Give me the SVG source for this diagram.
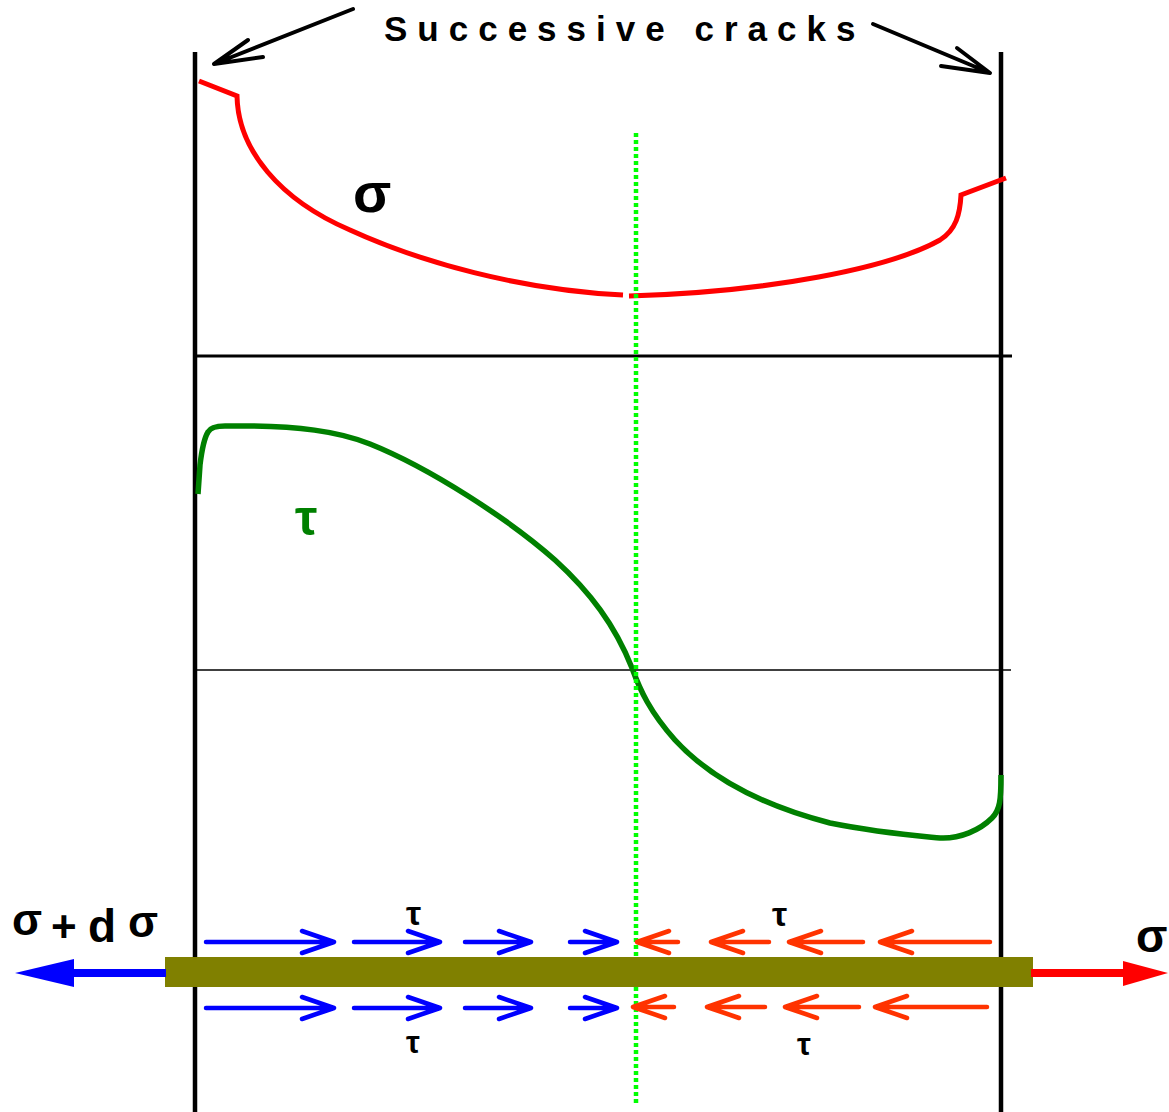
<svg xmlns="http://www.w3.org/2000/svg" width="1169" height="1112" viewBox="0 0 1169 1112">
<style>
.frame{stroke:#000;fill:none}
.blue{stroke:#0000ff;stroke-width:4.5;fill:none;stroke-linecap:round;stroke-linejoin:round}
.red{stroke:#ff3300;stroke-width:4.5;fill:none;stroke-linecap:round;stroke-linejoin:round}
.lbl{font-family:"Liberation Sans",Arial,sans-serif;font-weight:bold;fill:#000}
</style>
<rect width="1169" height="1112" fill="#fff"/>
<g id="frame">
<line class="frame" x1="195" y1="52" x2="195" y2="1112" stroke-width="4.5"/>
<line class="frame" x1="1001" y1="52" x2="1001" y2="1112" stroke-width="4.5"/>
<line class="frame" x1="195" y1="356" x2="1012" y2="356" stroke-width="3.2"/>
<line class="frame" x1="195" y1="670" x2="1011" y2="670" stroke-width="1.6"/>
</g>
<g id="title">
<text class="lbl" x="384" y="41" font-size="35" letter-spacing="10">Successive cracks</text>
</g>
<g id="connectors" stroke="#000" stroke-width="4" fill="none" stroke-linecap="round" stroke-linejoin="round">
<path d="M353,9 L214,64 M263,57 L214,64 L248,40"/>
<path d="M873,24 L990,73 M941,66 L990,73 L957,48"/>
</g>
<g id="sigma-curve" fill="none" stroke="#ff0000" stroke-width="5">
<path d="M199,81 L237,96 C238,150 280,200 350,230 C420,262 520,290 623,295"/>
<path d="M629,296 C770,292 890,268 940,240 C956,230 960,214 961,195 L1006,178"/>
</g>
<text id="sigma-label" class="lbl" x="353" y="212" font-size="56">σ</text>
<g id="tau-curve">
<path d="M198,494 L200,465 Q203,440 208,432 Q211,426 225,426 C300,425 340,432 370,444 C430,468 510,520 555,560 C590,592 615,625 632,668 C640,690 650,712 675,740 C710,778 760,805 830,823 C880,833 920,836 940,838 C960,839 980,830 992,818 C1000,810 1001,800 1001,775" fill="none" stroke="#008000" stroke-width="5.5"/>
</g>
<text id="tau-label" class="lbl" x="295" y="535" font-size="50" style="fill:#008000">τ</text>
<line id="midline" x1="636" y1="133" x2="636" y2="1105" stroke="#00ff00" stroke-width="4.5" stroke-dasharray="4 3"/>
<g id="fiber">
<rect x="165" y="957" width="868" height="30" fill="#808000"/>
</g>
<g id="end-forces">
<line x1="166" y1="973" x2="70" y2="973" stroke="#0000ff" stroke-width="8"/>
<polygon points="15,973 74,959 74,987" fill="#0000ff"/>
<line x1="1031" y1="973" x2="1126" y2="973" stroke="#ff0000" stroke-width="8"/>
<polygon points="1168,973 1123,961 1123,986" fill="#ff0000"/>
</g>
<g id="shear-arrows">
<path class="blue" d="M206,942 H334 M302,931 L334,942 L302,953 M354,942 H440 M408,931 L440,942 L408,953 M465,942 H531 M499,931 L531,942 L499,953 M570,942 H617 M585,931 L617,942 L585,953"/>
<path class="blue" d="M206,1008 H334 M302,997 L334,1008 L302,1019 M354,1008 H440 M408,997 L440,1008 L408,1019 M465,1008 H531 M499,997 L531,1008 L499,1019 M570,1008 H617 M585,997 L617,1008 L585,1019"/>
<path class="red" d="M678,942 H637 M669,931 L637,942 L669,953 M769,942 H711 M743,931 L711,942 L743,953 M863,942 H789 M821,931 L789,942 L821,953 M990,942 H880 M912,931 L880,942 L912,953"/>
<path class="red" d="M674,1007 H633 M665,996 L633,1007 L665,1018 M765,1007 H707 M739,996 L707,1007 L739,1018 M859,1007 H785 M817,996 L785,1007 L817,1018 M987,1007 H875 M907,996 L875,1007 L907,1018"/>
</g>
<g id="labels">
<text class="lbl" x="12" y="935" font-size="44">σ</text>
<text class="lbl" x="51" y="942" font-size="44">+</text>
<text class="lbl" x="88" y="942" font-size="46">d</text>
<text class="lbl" x="128" y="937" font-size="44">σ</text>
<text class="lbl" x="1136" y="952" font-size="46">σ</text>
<text class="lbl" x="406" y="925" font-size="34">τ</text>
<text class="lbl" x="406" y="1053" font-size="31">τ</text>
<text class="lbl" x="772" y="926" font-size="34">τ</text>
<text class="lbl" x="797" y="1055" font-size="31">τ</text>
</g>
</svg>
